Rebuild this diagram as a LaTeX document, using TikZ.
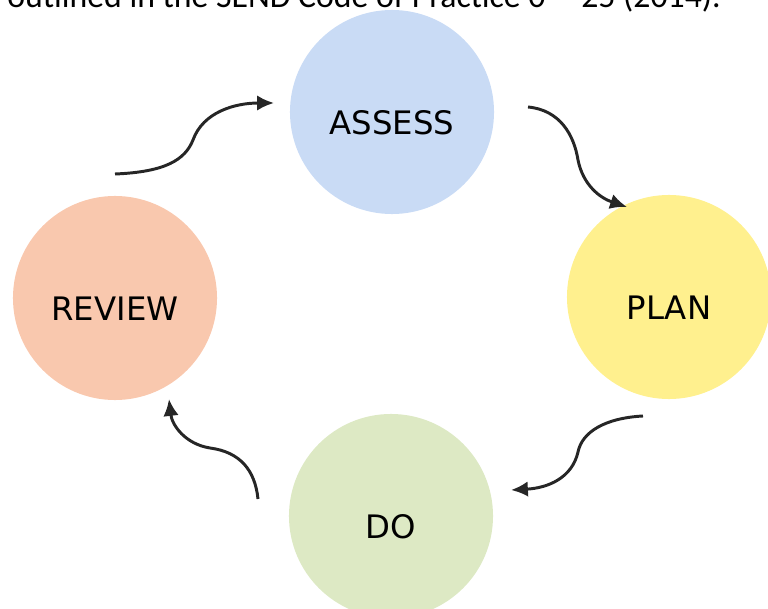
\documentclass[tikz,border=0pt]{standalone}
\usepackage{fontspec}
\setmainfont{DejaVu Sans}
\newfontfamily\capfont{Carlito}
\usetikzlibrary{arrows.meta}

\definecolor{assesscol}{HTML}{C9DBF5}
\definecolor{plancol}{HTML}{FFF08E}
\definecolor{docol}{HTML}{DDE9C4}
\definecolor{reviewcol}{HTML}{F9C8AE}

\begin{document}
\begin{tikzpicture}[x=0.025cm, y=-0.025cm, >={Latex[length=12pt,width=11pt]},
  stage/.style={circle, minimum size=5.1cm, inner sep=0pt, text height=1.1cm, text depth=0pt, font=\fontsize{23}{23}\selectfont},
  cycle/.style={->, line width=2.1pt, black!85}]
  \useasboundingbox (0,0) rectangle (768,609);
  \clip (0,0) rectangle (768,609);

  % Caption line cut off at the top
  \node [anchor=base east, inner sep=0pt, font=\capfont\fontsize{24}{24}\selectfont] (caption) at (721,8)
    {outlined in the SEND Code of Practice 0 -- 25 (2014).};

  % Define stages
  \node [stage, fill=assesscol] (assess) at (392,112) {ASSESS};
  \node [stage, fill=plancol] (plan) at (669,297) {PLAN};
  \node [stage, fill=docol] (do) at (391,516) {DO};
  \node [stage, fill=reviewcol] (review) at (115,298) {REVIEW};

  % Arrow ends
  \coordinate (review-out) at (115,174);
  \coordinate (assess-in) at (274,103);
  \coordinate (assess-out) at (528,107);
  \coordinate (plan-in) at (627,207);
  \coordinate (plan-out) at (643,416);
  \coordinate (do-in) at (511,490);
  \coordinate (do-out) at (258,499);
  \coordinate (review-in) at (169,399);

  % Connect stages with wavy arrows
  \draw [cycle] (review-out) .. controls (165,172) and (185,160) .. (193,140)
    .. controls (203,112) and (235,103) .. (assess-in);
  \draw [cycle] (assess-out) .. controls (560,110) and (574,135) .. (578,160)
    .. controls (583,185) and (600,198) .. (plan-in);
  \draw [cycle] (plan-out) .. controls (605,418) and (582,432) .. (578,452)
    .. controls (572,478) and (548,488) .. (do-in);
  \draw [cycle] (do-out) .. controls (255,470) and (240,452) .. (210,448)
    .. controls (185,444) and (172,425) .. (review-in);
\end{tikzpicture}
\end{document}
